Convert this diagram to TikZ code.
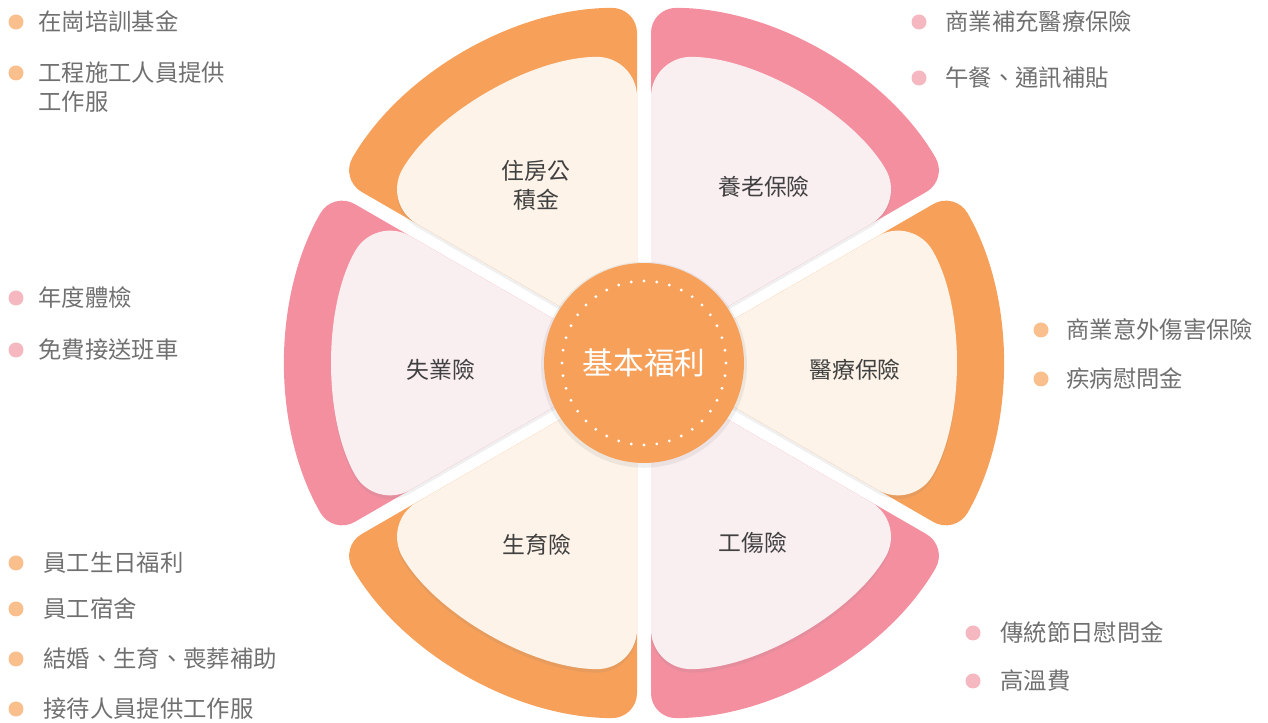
\documentclass[tikz,border=0pt]{standalone}
\usepackage{fontspec}
\setmainfont{Noto Sans CJK TC}
\usetikzlibrary{shadows}

\definecolor{orng}{RGB}{246,160,90}
\definecolor{pnk}{RGB}{244,143,160}
\definecolor{cream}{RGB}{253,243,232}
\definecolor{blush}{RGB}{250,239,240}
\definecolor{dotorng}{RGB}{249,192,142}
\definecolor{dotpnk}{RGB}{245,184,192}
\definecolor{txtgray}{RGB}{112,112,112}
\definecolor{lblgray}{RGB}{64,64,64}

\begin{document}
\begin{tikzpicture}[x=0.02cm, y=0.02cm,
    item/.style={anchor=west, inner sep=0pt, text=txtgray, font=\fontsize{13.3}{16.5}\selectfont, align=left},
    petal/.style={text=lblgray, font=\fontsize{13}{16.5}\selectfont, align=center},
    bulo/.style={fill=dotorng},
    bulp/.style={fill=dotpnk},
    soft/.style={drop shadow={shadow xshift=0pt, shadow yshift=-2pt, opacity=0.12}}]
  \useasboundingbox (0,0) rectangle (1268,723);
  % outer bands
  \foreach \b/\col in {120/orng, 60/pnk, 0/orng, -60/pnk, -120/orng, 180/pnk}
    \fill[\col, rounded corners=0.5cm, shift={(\b:14)}] (644,360) -- ++(\b-30:343) arc[start angle=\b-30, end angle=\b+30, radius=343] -- cycle;
  % inner petals
  \foreach \b/\col/\pos/\txt [count=\i] in {120/cream/{(536,538)}/{住房公\\積金}, 60/blush/{(764,536)}/養老保險,
      0/cream/{(855,353)}/醫療保險, -60/blush/{(753,180)}/工傷險, -120/cream/{(537,178)}/生育險, 180/blush/{(441,353)}/失業險} {
    \fill[\col, soft, rounded corners=0.8cm, shift={(\b:14)}] (644,360) -- ++(\b-30:294) arc[start angle=\b-30, end angle=\b+30, radius=294] -- cycle;
    \node[petal] (p\i) at \pos {\txt};
  }
  % hub
  \node[circle, fill=orng, minimum size=4cm, inner sep=0pt, text=white, font=\fontsize{17.5}{20}\selectfont,
        drop shadow={shadow xshift=0pt, shadow yshift=-1pt, shadow scale=1.03, opacity=0.12}] (hub) at (644,360) {基本福利};
  \foreach \a in {0,9,...,351}
    \fill[white] (hub.center) ++(\a:82) circle (1.6);

  % top left
  \fill[bulo] (16,701) circle (7.5); \node[item] (tl1) at (38,701) {在崗培訓基金};
  \fill[bulo] (16,650) circle (7.5); \node[item] (tl2) at (38,635.5) {工程施工人員提供\\工作服};
  % left
  \fill[bulp] (16,425) circle (7.5); \node[item] (ml1) at (38,425) {年度體檢};
  \fill[bulp] (16,373) circle (7.5); \node[item] (ml2) at (38,373) {免費接送班車};
  % bottom left
  \fill[bulo] (16,160) circle (7.5); \node[item] (bl1) at (43,160) {員工生日福利};
  \fill[bulo] (16,114) circle (7.5); \node[item] (bl2) at (43,114) {員工宿舍};
  \fill[bulo] (16,64) circle (7.5);  \node[item] (bl3) at (43,64) {結婚、生育、喪葬補助};
  \fill[bulo] (16,14) circle (7.5);  \node[item] (bl4) at (43,14) {接待人員提供工作服};
  % top right
  \fill[bulp] (919,701) circle (7.5); \node[item] (tr1) at (945,701) {商業補充醫療保險};
  \fill[bulp] (919,645) circle (7.5); \node[item] (tr2) at (945,645) {午餐、通訊補貼};
  % right
  \fill[bulo] (1041,393) circle (7.5); \node[item] (mr1) at (1066,393) {商業意外傷害保險};
  \fill[bulo] (1041,344) circle (7.5); \node[item] (mr2) at (1066,344) {疾病慰問金};
  % bottom right
  \fill[bulp] (973,90) circle (7.5); \node[item] (br1) at (1000,90) {傳統節日慰問金};
  \fill[bulp] (973,42) circle (7.5); \node[item] (br2) at (1000,42) {高溫費};
\end{tikzpicture}
\end{document}
